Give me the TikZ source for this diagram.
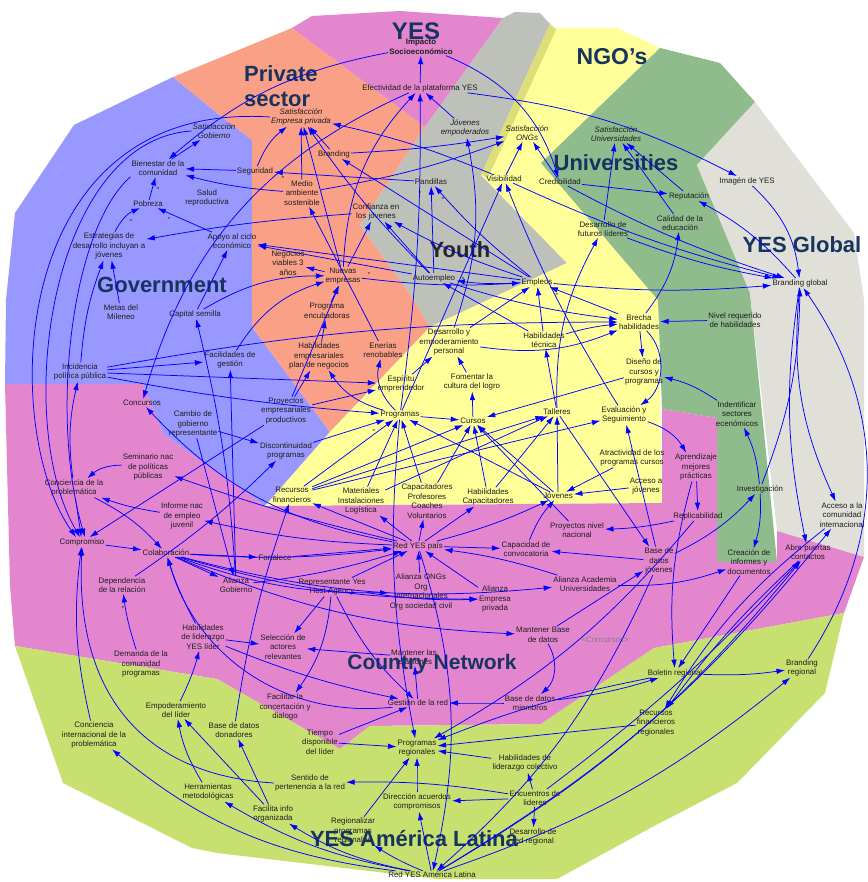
\documentclass[tikz,border=0pt]{standalone}
\usepackage{fontspec}
\setmainfont{Liberation Sans}
\usetikzlibrary{arrows.meta}
\definecolor{gov}{RGB}{152,152,255}
\definecolor{priv}{RGB}{250,160,135}
\definecolor{yesp}{RGB}{228,134,206}
\definecolor{youth}{RGB}{190,192,186}
\definecolor{ngo}{RGB}{255,255,153}
\definecolor{uni}{RGB}{143,187,141}
\definecolor{glob}{RGB}{224,224,216}
\definecolor{lime}{RGB}{200,224,112}
\definecolor{navy}{RGB}{23,52,94}
\definecolor{arr}{RGB}{0,0,255}
\definecolor{txt}{RGB}{30,30,30}
\definecolor{strip}{RGB}{222,222,120}
\tikzset{
 nd/.style={font=\fontsize{7.9}{9.5}\selectfont, align=center, inner sep=1pt, text=txt},
 ndi/.style={font=\fontsize{7.9}{9.5}\selectfont\itshape, align=center, inner sep=1pt, text=txt},
 ndb/.style={font=\fontsize{7.9}{9.5}\selectfont\bfseries, align=center, inner sep=1pt, text=txt},
 lbl/.style={font=\fontsize{22}{26}\selectfont\bfseries, text=navy, inner sep=0pt},
 ar/.style={draw=arr, line width=0.75pt, -{Latex[length=8.5pt,width=5.5pt]}},
 mk/.style={font=\fontsize{8}{8}\selectfont\bfseries, inner sep=0pt, text=txt},
}
\begin{document}
\begin{tikzpicture}[x=1pt,y=-1pt]
\useasboundingbox (0,0) rectangle (867,882);
\fill[white] (0,0) rectangle (867,882);
% regions
\fill[gov] (173,77) -- (74,125) -- (15,213) -- (6,300) -- (5,384) -- (143,384) -- (163,434) -- (265,506) -- (330,432) -- (252,327) -- (252,140) -- (217,113) -- cycle;
\fill[priv] (173,77) -- (292,28) -- (425,127) -- (360,225) -- (410,294) -- (430,327) -- (330,432) -- (252,327) -- (252,140) -- (217,113) -- cycle;
\fill[yesp] (292,28) -- (312,16) -- (400,11) -- (503,18) -- (425,127) -- cycle;
\fill[youth] (503,18) -- (515,12) -- (540,13) -- (550,24) -- (481,175) -- (567,263) -- (430,327) -- (410,294) -- (360,225) -- (425,127) -- cycle;
\fill[strip] (550,24) -- (557,30) -- (488,178) -- (481,175) -- cycle;
\fill[ngo] (557,28) -- (617,28) -- (660,48) -- (541,163) -- (658,300) -- (662,503) -- (265,506) -- (330,432) -- (430,327) -- (567,263) -- (481,175) -- (488,178) -- cycle;
\fill[uni] (660,48) -- (720,63) -- (755,102) -- (697,165) -- (750,293) -- (777,562) -- (717,562) -- (717,418) -- (662,409) -- (658,300) -- (541,163) -- cycle;
\fill[glob] (755,102) -- (854,233) -- (864,300) -- (864,557) -- (777,531) -- (750,293) -- (697,165) -- cycle;
\fill[yesp] (5,384) -- (143,384) -- (163,434) -- (265,506) -- (662,503) -- (662,409) -- (717,418) -- (717,562) -- (777,562) -- (777,531) -- (864,557) -- (844,613) -- (654,648) -- (541,724) -- (370,726) -- (340,749) -- (217,679) -- (15,646) -- (10,586) -- cycle;
\fill[lime] (15,646) -- (217,679) -- (340,749) -- (370,726) -- (541,724) -- (654,648) -- (844,613) -- (825,693) -- (737,783) -- (654,826) -- (557,879) -- (437,879) -- (217,853) -- (192,848) -- (63,783) -- cycle;
% nodes
\node[ndb] (imp) at (421,47) {Impacto\\Socioeconómico};
\node[nd] (efe) at (420,88) {Efectividad de la plataforma YES};
\node[ndi] (jem) at (465,128) {Jóvenes\\empoderados};
\node[ndi] (sep) at (301,117) {Satisfacción\\Empresa privada};
\node[ndi] (sgo) at (214,131) {Satisfacción\\Gobierno};
\node[ndi] (song) at (527,133) {Satisfacción\\ONGs};
\node[ndi] (suni) at (616,134) {Satisfacción\\Universidades};
\node[nd] (bien) at (158,168) {Bienestar de la\\comunidad};
\node[nd] (seg) at (255,171) {Seguridad};
\node[nd] (brand) at (334,154) {Branding};
\node[nd] (medio) at (302,193) {Medio\\ambiente\\sostenible};
\node[nd] (salud) at (207,198) {Salud\\reproductiva};
\node[nd] (pob) at (148,204) {Pobreza};
\node[nd] (pand) at (431,182) {Pandillas};
\node[nd] (vis) at (504,179) {Visibilidad};
\node[nd] (cred) at (560,182) {Credibilidad};
\node[nd] (conf) at (376,212) {Confianza en\\los jóvenes};
\node[nd] (estr) at (109,246) {Estrategias de\\desarrollo incluyan a\\jóvenes};
\node[nd] (apoyo) at (232,241) {Apoyo al ciclo\\económico};
\node[nd] (nego) at (288,263) {Negocios\\viables 3\\años};
\node[nd] (nuev) at (343,276) {Nuevas\\empresas};
\node[nd] (dfl) at (603,229) {Desarrollo de\\futuros líderes};
\node[nd] (cal) at (680,223) {Calidad de la\\educación};
\node[nd] (rep) at (689,196) {Reputación};
\node[nd] (img) at (747,181) {Imagén de YES};
\node[nd] (bglob) at (800,283) {Branding global};
\node[nd] (auto) at (434,278) {Autoempleo};
\node[nd] (empl) at (537,282) {Empleos};
\node[nd] (metas) at (121,312) {Metas del\\Mileneo};
\node[nd] (capsem) at (195,314) {Capital semilla};
\node[nd] (penc) at (327,311) {Programa\\encubadoras};
\node[nd] (brecha) at (639,322) {Brecha\\habilidades};
\node[nd] (nivel) at (735,320) {Nivel requerido\\de habilidades};
\node[nd] (dep) at (449,342) {Desarrollo y\\empoderamiento\\personal};
\node[nd] (habtec) at (544,340) {Habilidades\\técnica};
\node[nd] (ener) at (383,350) {Enerías\\renobables};
\node[nd] (habemp) at (319,356) {Habilidades\\empresariales\\plan de negocios};
\node[nd] (facil) at (230,360) {Facilidades de\\gestión};
\node[nd] (incid) at (80,372) {Incidencia\\política pública};
\node[nd] (diseno) at (644,372) {Diseño de\\cursos y\\programas};
\node[nd] (esp) at (401,384) {Espíritu\\emprendedor};
\node[nd] (fom) at (472,382) {Fomentar la\\cultura del logro};
\node[nd] (concur) at (142,403) {Concursos};
\node[nd] (proy) at (286,411) {Proyectos\\empresariales\\productivos};
\node[nd] (progs) at (400,415) {Programas};
\node[nd] (ident) at (737,414) {Indentificar\\sectores\\ecenómicos};
\node[nd] (talle) at (557,412) {Talleres};
\node[nd] (cursos) at (473,421) {Cursos};
\node[nd] (eval) at (624,415) {Evaluación y\\Seguimiento};
\node[nd] (cambio) at (193,424) {Cambio de\\gobierno\\representante};
\node[nd] (disc) at (286,451) {Discontinuidad\\programas};
\node[nd] (atrac) at (632,458) {Atractividad de los\\programas cursos};
\node[nd] (semi) at (148,467) {Seminario nac\\de políticas\\públicas};
\node[nd] (aprend) at (696,467) {Aprendizaje\\mejores\\prácticas};
\node[nd] (conc) at (74,488) {Conciencia de la\\problemática};
\node[nd] (acceso) at (646,486) {Acceso a\\jóvenes};
\node[nd] (invest) at (760,489) {Investigación};
\node[nd] (recf) at (292,495) {Recursos\\financieros};
\node[nd] (mat) at (361,501) {Materiales\\Instalaciones\\Logística};
\node[nd] (capac) at (427,501) {Capacitadores\\Profesores\\Coaches\\Voluntarios};
\node[nd] (habcap) at (488,497) {Habilidades\\Capacitadores};
\node[nd] (jov) at (558,496) {Jóvenes};
\node[nd] (informe) at (182,516) {Informe nac\\de empleo\\juvenil};
\node[nd] (replic) at (698,516) {Replicabilidad};
\node[nd] (acom) at (842,515) {Acceso a la\\comunidad\\internacional};
\node[nd] (pnn) at (577,530) {Proyectos nivel\\nacional};
\node[nd] (comp) at (82,542) {Compromiso};
\node[nd] (redp) at (418,546) {Red YES país};
\node[nd] (capconv) at (526,549) {Capacidad de\\convocatoria};
\node[nd] (colab) at (166,553) {Colaboración};
\node[nd] (fort) at (275,558) {Fortalece};
\node[nd] (bdj) at (659,561) {Base de\\datos\\jóvenes};
\node[nd] (abre) at (808,552) {Abre puertas\\contactos};
\node[nd] (creac) at (749,562) {Creación de\\informes y\\documentos};
\node[nd] (dep2) at (122,585) {Dependencia\\de la relación};
\node[nd] (agob) at (236,585) {Alianza\\Gobierno};
\node[nd] (rep2) at (332,587) {Representante Yes\\Host Agency};
\node[nd] (aong) at (421,592) {Alianza ONGs\\Org\\Internacionales\\Org sociedad civil};
\node[nd] (aemp) at (495,599) {Alianza\\Empresa\\privada};
\node[nd] (aacad) at (585,584) {Alianza Academia\\Universidades};
\node[nd] (hlid) at (203,637) {Habilidades\\de liderazgo\\YES líder};
\node[nd] (mbase) at (543,635) {Mantener Base\\de datos};
\node[nd,text=gray] (concg) at (605,640) {\textless Concursos\textgreater};
\node[nd] (selec) at (283,647) {Selección de\\actores\\relevantes};
\node[nd] (mant) at (414,657) {Mantener las\\relaciones};
\node[nd] (dem) at (141,664) {Demanda de la\\comunidad\\programas};
\node[nd] (bolet) at (675,673) {Boletin regional};
\node[nd] (brreg) at (802,668) {Branding\\regional};
\node[nd] (gest) at (418,703) {Gestión de la red};
\node[nd] (bdm) at (530,703) {Base de datos\\miembros};
\node[nd] (facilit) at (285,707) {Facilitar la\\concertación y\\dialogo};
\node[nd] (empod) at (176,710) {Empoderamiento\\del líder};
\node[nd] (recreg) at (656,723) {Recursos\\financieros\\regionales};
\node[nd] (bdd) at (234,730) {Base de datos\\donadores};
\node[nd] (cint) at (94,735) {Conciencia\\internacional de la\\problemática};
\node[nd] (tiempo) at (320,742) {Tiempo\\disponible\\del líder};
\node[nd] (preg) at (417,748) {Programas\\regionales};
\node[nd] (hlc) at (525,763) {Habilidades de\\liderazgo colectivo};
\node[nd] (sent) at (310,783) {Sentido de\\pertenencia a la red};
\node[nd] (herr) at (208,792) {Herramientas\\metodológicas};
\node[nd] (encu) at (535,798) {Encuentros de\\lideres};
\node[nd] (dir) at (417,802) {Dirección acuerdos\\compromisos};
\node[nd] (facinfo) at (273,814) {Facilita info\\organizada};
\node[nd] (regprog) at (353,831) {Regionalizar\\programas\\regionales};
\node[nd] (drr) at (533,837) {Desarrollo de\\red regional};
\node[nd] (redal) at (432,875) {Red YES América Latina};
% region labels
\node[lbl,font=\fontsize{24}{28}\selectfont\bfseries] (lyes) at (416,31) {YES};
\node[lbl,anchor=base west] (lpriv) at (244,82) {Private};
\node[lbl,anchor=base west] (lsec) at (244,107) {sector};
\node[lbl,font=\fontsize{23}{27}\selectfont\bfseries] (lngo) at (612,57) {NGO’s};
\node[lbl] (luni) at (616,163) {Universities};
\node[lbl] (lglob) at (802,245) {YES Global};
\node[lbl,text=black!85] (lyouth) at (460,250) {Youth};
\node[lbl] (lgov) at (162,285) {Government};
\node[lbl,font=\fontsize{21}{25}\selectfont\bfseries] (lcn) at (432,664) {Country Network};
\node[lbl] (lyal) at (414,839) {YES América Latina};
% polarity marks
\foreach \p in {(158,189),(131,221),(169,219),(283,178),(369,274),(443,199),(463,279),(611,332),(374,431),(123,608),(420,193),(557,295)}
  \node[mk] at \p {-};
% edges
\foreach \a/\b/\c in {efe/imp/0, jem/efe/0, imp/bien/-15, bien/sgo/0, seg/bien/0, medio/bien/5, pob/bien/0, estr/pob/20, apoyo/pob/0, conf/estr/-3, metas/estr/0, incid/estr/8, seg/sep/15, medio/sep/0, brand/sep/0, vis/sep/-5, nuev/sep/0, auto/sep/5, nuev/efe/20, nuev/conf/0, nuev/nego/0, auto/conf/0, empl/conf/5, progs/efe/-4, efe/concur/-25, pand/seg/0, empl/pand/5, auto/pand/0, ener/medio/0, brand/song/-3, medio/song/-5, vis/song/0, cred/song/0, empl/brand/0, imp/cred/25, efe/img/10, img/bglob/20, cred/bglob/-5, vis/bglob/-5, empl/bglob/-5, dfl/bglob/-5, dfl/suni/0, talle/dfl/15, cal/suni/0, rep/suni/0, cred/rep/0, bglob/rep/-10, brecha/cal/-15, eval/vis/5, progs/vis/0, dep/jem/-15, esp/dep/0, fom/dep/0, cursos/fom/0, dep/brecha/-15, habtec/brecha/5, talle/habtec/0, habtec/empl/0, dep/empl/0, nuev/empl/-5, empl/auto/5, habtec/auto/0, brecha/empl/0, incid/brecha/5, auto/brecha/-5, empl/apoyo/0, auto/apoyo/0, capsem/apoyo/0, capsem/nuev/15, facil/nuev/20, incid/facil/0, incid/progs/-3, incid/esp/0, agob/capsem/-5, agob/facil/0, nivel/brecha/0, brecha/diseno/0, ident/diseno/-10, brecha/eval/50, eval/aprend/20, aprend/replic/0, aprend/bolet/-10, replic/pnn/5, replic/preg/10, invest/ident/-10, invest/creac/10, invest/bglob/-10, bdj/invest/-10, aacad/creac/-10, creac/bolet/0, bglob/abre/-10, bglob/acom/-15, brreg/bglob/-34, abre/recreg/-5, acom/recreg/-10, redal/brreg/-10, redal/acom/-10, redal/abre/-10, bolet/brreg/-5, bdm/bolet/-5, encu/abre/-5}
  \draw[ar] (\a) to[bend left=\c] (\b);
\foreach \a/\b/\c in {redp/concur/18, redp/semi/3, redp/informe/5, redp/recf/0, redp/mat/0, redp/capac/0, redp/habcap/0, redp/jov/-5, redp/capconv/0, capconv/jov/10, aacad/redp/-5, aong/redp/0, aemp/redp/0, rep2/redp/0, agob/redp/-5, colab/redp/-5, fort/redp/0, colab/fort/0, comp/colab/0, conc/colab/10, conc/comp/0, conc/incid/10, semi/conc/-20, informe/conc/5, proy/comp/0, cint/comp/10, dep2/disc/-5, cambio/disc/0, cambio/agob/0, dem/dep2/5, empod/hlid/-5, herr/empod/10, facinfo/empod/0, hlid/colab/5, hlid/selec/0, hlid/gest/-5, gest/colab/40, redal/cint/16, redal/herr/10, redal/facinfo/10, redal/regprog/5, redal/dir/0, dir/preg/0, regprog/preg/0, tiempo/preg/0, tiempo/gest/0, gest/mant/0, rep2/gest/-10, rep2/selec/0, rep2/facilit/15, rep2/aemp/-5, colab/aong/-10, colab/agob/0, colab/aemp/-8, colab/aacad/-10, colab/mbase/-10, mbase/bdj/0, mbase/bdm/40, bdm/gest/0, progs/preg/-8, redp/redal/15, bdj/redal/12, recreg/preg/0, hlc/preg/0, bolet/preg/-5, encu/hlc/0, encu/drr/0, encu/dir/0, encu/sent/-5, facinfo/bdd/0, bdd/recf/5, mant/selec/0}
  \draw[ar] (\a) to[bend left=\c] (\b);
\foreach \a/\b/\c in {disc/progs/0, recf/progs/0, mat/progs/0, capac/progs/0, jov/progs/0, progs/habemp/20, progs/ener/30, proy/esp/0, proy/habemp/0, proy/nuev/0, habemp/penc/0, penc/nuev/0, progs/cursos/0, recf/cursos/0, recf/talle/0, recf/eval/0, mat/talle/0, diseno/cursos/0, jov/cursos/0, jov/talle/0, habcap/cursos/0, habcap/talle/0, capac/cursos/0, atrac/jov/0, acceso/jov/0, pnn/cursos/0, talle/bdj/0, bdj/eval/0, bdj/capconv/0}
  \draw[ar] (\a) to[bend left=\c] (\b);
% long arcs
\draw[ar] (sep.west) .. controls (5,100) and (0,430) .. ([xshift=-6pt]comp.north);
\draw[ar] (sgo.west) .. controls (50,140) and (12,420) .. ([xshift=-2pt]comp.north);
\draw[ar] (bien.south west) .. controls (70,230) and (50,420) .. ([xshift=3pt]comp.north);
\draw[ar] (sent.west) .. controls (140,775) and (75,690) .. (comp.south);
\end{tikzpicture}
\end{document}
